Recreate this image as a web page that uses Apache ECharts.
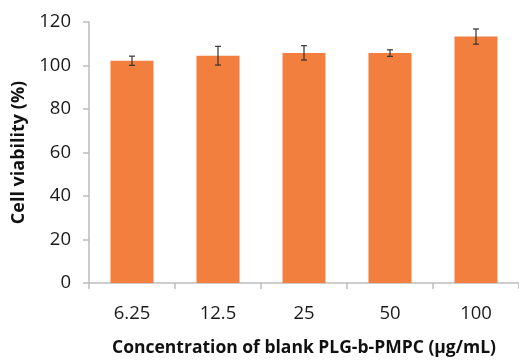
<!DOCTYPE html>
<html><head><meta charset="utf-8">
<script src="https://cdn.jsdelivr.net/npm/echarts@6/dist/echarts.min.js"></script>
<style>html,body{margin:0;padding:0;background:#fff}#c{width:519px;height:362px}</style>
</head><body><div id="c"></div>
<script>
const categories = ['6.25', '12.5', '25', '50', '100'];
const viability = [102.2, 104.5, 105.8, 105.7, 113.3];
const errors = [2.1, 4.3, 3.3, 1.5, 3.5];
const yTicks = [0, 20, 40, 60, 80, 100, 120];

const chart = echarts.init(document.getElementById('c'));
const FONT = '"Open Sans", "Noto Sans", sans-serif';
chart.setOption({
  animation: false,
  grid: { left: 89, top: 22, width: 437, bottom: 78 },
  xAxis: {
    type: 'category',
    data: categories,
    axisLine: { lineStyle: { color: '#bdbdbd', width: 1.5 } },
    axisTick: { show: true, length: 6, lineStyle: { color: '#bdbdbd', width: 1.5 } },
    axisLabel: { color: '#1a1a1a', fontSize: 18.5, fontFamily: FONT, margin: 21 },
    name: 'Concentration of blank PLG-b-PMPC (\u03BCg/mL)',
    nameLocation: 'middle',
    nameGap: 56,
    nameTextStyle: { color: '#111', fontSize: 17.5, fontWeight: 'bold', fontFamily: FONT }
  },
  yAxis: {
    type: 'value',
    min: yTicks[0], max: yTicks[yTicks.length - 1], interval: 20,
    axisLine: { show: true, lineStyle: { color: '#bdbdbd', width: 1.5 } },
    axisTick: { show: true, length: 6, lineStyle: { color: '#bdbdbd', width: 1.5 } },
    splitLine: { show: false },
    axisLabel: { color: '#1a1a1a', fontSize: 18.5, fontFamily: FONT, margin: 18 },
    name: 'Cell viability (%)',
    nameLocation: 'middle',
    nameGap: 55,
    nameTextStyle: { color: '#111', fontSize: 18, fontWeight: 'bold', fontFamily: FONT }
  },
  series: [
    {
      type: 'bar',
      data: viability,
      barWidth: '50%',
      itemStyle: { color: '#F27F3D' }
    },
    {
      type: 'custom',
      data: viability.map((v, i) => [i, v, errors[i]]),
      renderItem: function (params, api) {
        const x = api.value(0);
        const v = api.value(1);
        const e = api.value(2);
        const hi = api.coord([x, v + e]);
        const lo = api.coord([x, v - e]);
        const cap = 3;
        const style = { stroke: '#333', lineWidth: 1.2 };
        return {
          type: 'group',
          children: [
            { type: 'line', shape: { x1: hi[0], y1: hi[1], x2: lo[0], y2: lo[1] }, style },
            { type: 'line', shape: { x1: hi[0] - cap, y1: hi[1], x2: hi[0] + cap, y2: hi[1] }, style },
            { type: 'line', shape: { x1: lo[0] - cap, y1: lo[1], x2: lo[0] + cap, y2: lo[1] }, style }
          ]
        };
      },
      z: 10
    }
  ]
});
</script></body></html>
